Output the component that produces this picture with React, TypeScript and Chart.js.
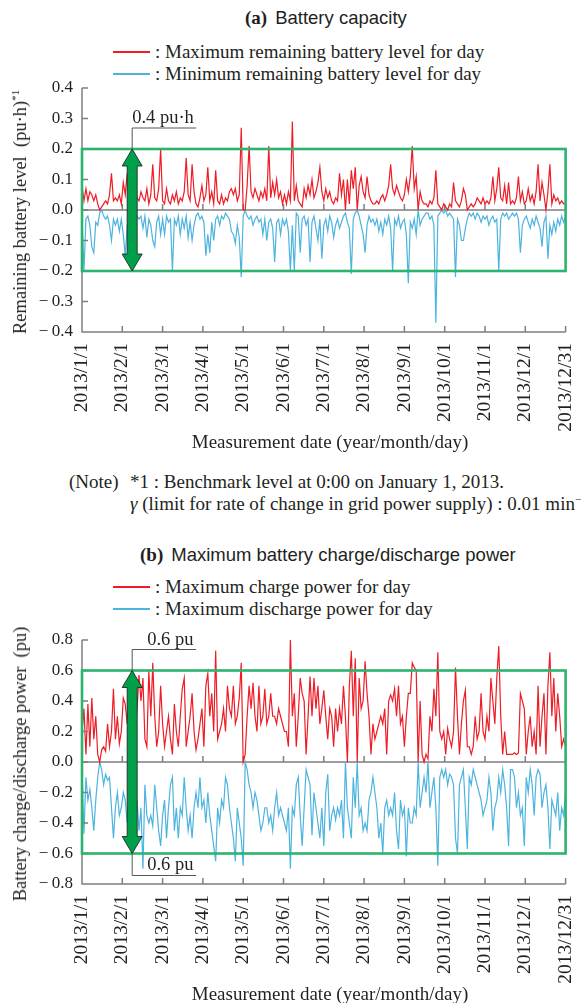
import React, { useEffect, useRef } from "react";
import { Chart, registerables } from "chart.js";
Chart.register(...registerables);

// ---------- data ----------
const X_LABELS = [
  "2013/1/1", "2013/2/1", "2013/3/1", "2013/4/1", "2013/5/1", "2013/6/1", "2013/7/1",
  "2013/8/1", "2013/9/1", "2013/10/1", "2013/11/1", "2013/12/1", "2013/12/31",
];

// (a) maximum remaining battery level for day (pu·h)
const CAP_MAX = [
  0.08,0.03,0.07,0.03,0.06,0.05,0.03,0.05,0.02,0.00,0.01,0.02,0.03,0.02,0.05,0.12,0.03,0.04,0.03,0.05,0.02,0.09,0.05,0.12,0.04,0.06,0.03,0.08,0.04,0.03,0.06,0.04,0.03,0.07,0.02,0.05,0.15,0.04,0.03,0.07,0.20,0.03,0.02,0.07,0.03,0.02,0.05,0.03,0.06,0.02,0.04,0.03,0.06,0.17,0.05,0.03,0.15,0.06,0.02,0.01,0.04,0.08,0.03,0.05,0.14,0.03,0.06,0.02,0.13,0.03,0.02,0.05,0.02,0.04,0.03,0.06,0.07,0.05,0.07,0.03,0.05,0.27,0.00,0.00,0.08,0.21,0.06,0.04,0.07,0.05,0.03,0.06,0.04,0.07,0.03,0.21,0.04,0.09,0.05,0.10,0.04,0.06,0.02,0.05,0.02,0.06,0.03,0.29,0.03,
  0.08,0.03,0.02,0.01,0.07,0.04,0.08,0.05,0.10,0.04,0.06,0.09,0.14,0.06,0.03,0.07,0.04,0.06,0.03,0.02,0.04,0.03,0.12,0.05,0.10,0.00,0.10,0.02,0.13,0.07,0.14,0.00,0.08,0.11,0.06,0.04,0.11,0.05,0.03,0.02,0.02,0.03,0.02,0.04,0.05,0.03,0.05,0.08,0.15,0.07,0.05,0.08,0.06,0.04,0.03,0.05,0.10,0.06,0.11,0.21,0.07,0.11,0.00,0.06,0.03,0.02,0.02,0.01,0.03,0.02,0.04,0.13,0.02,0.01,0.00,0.02,0.01,0.00,0.02,0.01,0.09,0.03,0.02,0.01,0.03,0.07,0.05,0.00,0.01,0.02,0.01,0.02,0.04,0.03,0.02,0.04,0.02,0.03,0.02,0.04,0.11,0.03,0.07,0.14,0.04,0.03,0.08,0.02,0.09,0.02,0.03,0.02,0.04,0.11,0.03,0.06,0.02,0.03,0.07,0.03,0.05,0.02,0.06,0.15,0.03,0.09,0.05,0.00,0.06,0.15,0.02,0.05,0.03,0.04,0.02,0.03,0.02,0.02,
];

// (a) minimum remaining battery level for day (pu·h)
const CAP_MIN = [
  -0.02,-0.20,-0.03,-0.02,-0.05,-0.12,-0.14,-0.04,-0.05,-0.01,0.00,-0.02,-0.03,-0.02,-0.05,-0.10,-0.03,-0.05,-0.03,-0.07,-0.03,-0.08,-0.15,-0.05,-0.03,-0.06,-0.02,-0.04,-0.02,-0.03,-0.02,-0.06,-0.02,-0.09,-0.03,-0.05,-0.10,-0.12,-0.04,-0.02,-0.08,-0.03,-0.08,-0.02,-0.04,-0.03,-0.20,-0.03,-0.05,-0.02,-0.08,-0.03,-0.06,-0.02,-0.09,-0.04,-0.10,-0.05,-0.02,-0.01,-0.03,-0.02,-0.04,-0.15,-0.08,-0.14,-0.04,-0.10,-0.03,-0.02,-0.05,-0.02,-0.03,-0.01,-0.02,-0.03,-0.07,-0.08,-0.11,-0.05,-0.09,-0.22,-0.02,0.00,-0.02,-0.03,-0.02,-0.05,-0.03,-0.02,-0.04,-0.03,-0.08,-0.03,-0.10,-0.04,-0.03,-0.06,-0.17,-0.04,-0.03,-0.08,-0.03,-0.05,-0.03,-0.07,-0.20,-0.05,-0.20,
  -0.01,-0.02,-0.14,-0.03,-0.02,-0.05,-0.03,-0.17,-0.04,-0.02,-0.06,-0.10,-0.03,-0.16,-0.05,-0.03,-0.07,-0.02,-0.04,-0.09,-0.05,-0.03,-0.06,-0.04,-0.02,-0.01,-0.04,-0.06,-0.21,-0.03,-0.01,0.00,-0.02,-0.05,-0.08,-0.14,-0.05,-0.02,-0.04,-0.03,-0.05,-0.03,-0.07,-0.04,-0.08,-0.03,-0.05,-0.02,-0.06,-0.20,-0.03,-0.05,-0.02,-0.06,-0.04,-0.03,-0.08,-0.24,-0.04,-0.06,-0.03,-0.08,0.00,-0.05,-0.03,-0.02,-0.01,-0.01,-0.03,-0.02,-0.05,-0.37,-0.02,-0.01,0.00,-0.01,0.00,-0.02,-0.01,-0.02,-0.03,-0.22,-0.03,-0.05,-0.10,-0.10,-0.06,-0.03,-0.01,-0.02,-0.01,-0.03,-0.01,-0.02,-0.04,-0.02,-0.03,-0.02,-0.05,-0.03,-0.02,-0.04,-0.03,-0.20,-0.03,-0.01,-0.02,-0.01,-0.03,-0.02,-0.01,-0.02,-0.01,-0.03,-0.14,-0.05,-0.03,-0.02,-0.04,-0.06,-0.03,-0.05,-0.02,-0.04,-0.06,-0.12,-0.04,-0.02,-0.16,-0.05,-0.08,-0.04,-0.07,-0.03,-0.05,-0.02,-0.04,-0.02,
];

// (b) maximum charge power for day (pu)
const CHG_MAX = [
  0.20,0.35,0.05,0.38,0.10,0.42,0.15,0.30,0.05,0.00,0.08,0.10,0.07,0.25,0.10,0.20,0.48,0.15,0.30,0.12,0.20,0.42,0.38,0.25,0.50,0.30,0.45,0.20,0.35,0.57,0.40,0.55,0.15,0.10,0.60,0.30,0.65,0.30,0.10,0.20,0.50,0.25,0.10,0.20,0.30,0.15,0.05,0.38,0.20,0.10,0.30,0.48,0.55,0.10,0.20,0.30,0.45,0.20,0.08,0.15,0.25,0.35,0.10,0.50,0.58,0.30,0.45,0.20,0.73,0.15,0.20,0.25,0.35,0.20,0.50,0.35,0.30,0.50,0.25,0.30,0.42,0.65,0.00,0.05,0.30,0.50,0.35,0.52,0.30,0.20,0.50,0.25,0.30,0.48,0.25,0.30,0.45,0.30,0.30,0.25,0.35,0.30,0.25,0.20,0.20,0.10,0.80,0.30,0.45,
  0.10,0.30,0.55,0.45,0.40,0.05,0.30,0.56,0.30,0.55,0.35,0.50,0.25,0.35,0.47,0.30,0.15,0.35,0.30,0.10,0.35,0.20,0.35,0.25,0.50,0.30,0.00,0.50,0.73,0.30,0.68,0.00,0.55,0.35,0.40,0.66,0.45,0.30,0.05,0.25,0.15,0.20,0.25,0.30,0.25,0.35,0.05,0.40,0.44,0.40,0.48,0.30,0.50,0.25,0.30,0.10,0.30,0.45,0.45,0.65,0.62,0.60,0.00,0.40,0.05,0.00,0.05,0.02,0.30,0.20,0.48,0.30,0.72,0.20,0.15,0.20,0.05,0.22,0.15,0.10,0.20,0.62,0.30,0.05,0.25,0.40,0.47,0.10,0.10,0.05,0.10,0.30,0.15,0.20,0.45,0.20,0.15,0.30,0.20,0.55,0.40,0.25,0.55,0.76,0.30,0.05,0.20,0.05,0.05,0.05,0.05,0.06,0.05,0.06,0.45,0.40,0.35,0.05,0.20,0.30,0.10,0.20,0.05,0.50,0.10,0.30,0.45,0.05,0.50,0.72,0.30,0.55,0.20,0.45,0.30,0.10,0.15,0.10,
];

// (b) maximum discharge power for day (pu)
const DIS_MAX = [
  -0.05,-0.47,-0.10,-0.25,-0.18,-0.30,-0.45,-0.25,-0.10,0.00,-0.05,-0.15,-0.08,-0.12,-0.10,-0.30,-0.50,-0.30,-0.20,-0.35,-0.30,-0.20,-0.25,-0.40,-0.20,-0.45,-0.30,-0.50,-0.25,-0.45,-0.30,-0.70,-0.15,-0.35,-0.40,-0.35,-0.42,-0.15,-0.30,-0.45,-0.55,-0.35,-0.25,-0.50,-0.30,-0.15,-0.10,-0.45,-0.30,-0.50,-0.30,-0.35,-0.10,-0.30,-0.45,-0.35,-0.50,-0.30,-0.20,-0.30,-0.10,-0.30,-0.25,-0.40,-0.20,-0.35,-0.45,-0.55,-0.65,-0.30,-0.40,-0.25,-0.30,-0.10,-0.15,-0.30,-0.40,-0.50,-0.65,-0.30,-0.40,-0.50,-0.68,0.00,-0.05,-0.15,-0.20,-0.30,-0.20,-0.25,-0.35,-0.45,-0.40,-0.30,-0.30,-0.40,-0.35,-0.45,-0.30,-0.20,-0.35,-0.30,-0.35,-0.40,-0.45,-0.30,-0.70,-0.30,-0.35,
  -0.15,-0.10,-0.35,-0.55,-0.30,-0.05,-0.10,-0.15,-0.48,-0.20,-0.30,-0.40,-0.50,-0.30,-0.55,-0.20,-0.08,-0.45,-0.35,-0.30,-0.38,-0.30,-0.35,-0.25,-0.50,0.00,-0.30,-0.40,-0.50,-0.10,-0.30,0.00,-0.35,-0.30,-0.45,-0.40,-0.45,-0.25,-0.20,-0.10,-0.20,-0.30,-0.50,-0.40,-0.60,-0.30,-0.25,-0.35,-0.30,-0.35,-0.20,-0.45,-0.57,-0.25,-0.35,-0.30,-0.62,-0.30,-0.40,-0.40,-0.30,-0.35,0.00,-0.30,-0.20,-0.10,-0.20,0.00,-0.30,-0.20,-0.10,-0.30,-0.68,-0.10,-0.05,-0.10,-0.05,-0.15,-0.08,-0.10,-0.15,-0.50,-0.60,-0.15,-0.10,-0.05,-0.30,-0.57,-0.10,-0.15,-0.05,-0.10,-0.15,-0.20,-0.25,-0.35,-0.30,-0.25,-0.10,-0.20,-0.45,-0.30,-0.25,-0.10,-0.20,-0.05,-0.15,-0.30,-0.55,-0.05,-0.05,-0.10,-0.30,-0.20,-0.35,-0.30,-0.55,-0.10,-0.20,-0.05,-0.15,-0.35,-0.10,-0.05,-0.08,-0.30,-0.20,-0.15,-0.30,-0.57,-0.25,-0.30,-0.35,-0.20,-0.45,-0.30,-0.35,-0.20,
];

const CAP_LIMIT = [-0.2, 0.2];
const PWR_LIMIT = [-0.6, 0.6];

// ---------- styles ----------
const SERIF = '"Liberation Serif", "Times New Roman", serif';
const SANS = '"Liberation Sans", Arial, sans-serif';
const RED = "#ee1c25";
const BLUE = "#4db3df";
const GREEN_BOX = "#2bb46e";
const GREEN_ARROW = "#00a04b";
const AXIS = "#7f7f7f";
const TEXT = "#231f20";

function toPoints(arr: number[]) {
  const n = arr.length;
  return arr.map((v, i) => ({ x: (i * 12) / (n - 1), y: v }));
}

function fmtTick(v: number) {
  const r = Math.round(v * 10) / 10;
  if (Math.abs(r) < 1e-9) return "0.0";
  return r < 0 ? "\u2212\u2009" + Math.abs(r).toFixed(1) : r.toFixed(1);
}

const decorPlugin = {
  id: "decor",
  beforeDatasetsDraw(chart: any) {
    const { ctx, chartArea: a, scales } = chart;
    const x = scales.x, y = scales.y;
    const y0 = y.getPixelForValue(0);
    ctx.save();
    ctx.strokeStyle = AXIS;
    ctx.lineWidth = 1.5;
    ctx.beginPath();
    ctx.moveTo(a.left, y0);
    ctx.lineTo(a.right, y0);
    x.ticks.forEach((t: any) => {
      const px = x.getPixelForValue(t.value);
      ctx.moveTo(px, y0);
      ctx.lineTo(px, y0 - 6);
    });
    ctx.stroke();
    ctx.restore();
  },
  afterDatasetsDraw(chart: any, _args: any, opts: any) {
    const { ctx, chartArea: a, scales } = chart;
    const x = scales.x, y = scales.y;
    ctx.save();
    // axes
    ctx.strokeStyle = AXIS;
    ctx.lineWidth = 1.5;
    ctx.beginPath();
    ctx.moveTo(a.left, a.top);
    ctx.lineTo(a.left, a.bottom);
    ctx.lineTo(a.right, a.bottom);
    y.ticks.forEach((t: any) => {
      const py = y.getPixelForValue(t.value);
      ctx.moveTo(a.left, py);
      ctx.lineTo(a.left + 6, py);
    });
    x.ticks.forEach((t: any) => {
      const px = x.getPixelForValue(t.value);
      ctx.moveTo(px, a.bottom);
      ctx.lineTo(px, a.bottom - 6);
    });
    ctx.stroke();

    // limit box
    const [lo, hi] = opts.limits;
    const bx0 = x.getPixelForValue(0), bx1 = x.getPixelForValue(12);
    const by0 = y.getPixelForValue(hi), by1 = y.getPixelForValue(lo);
    ctx.strokeStyle = GREEN_BOX;
    ctx.lineWidth = 2.6;
    ctx.strokeRect(bx0, by0, bx1 - bx0, by1 - by0);

    // double arrow
    const ax = x.getPixelForValue(opts.arrowX);
    const hl = 17, hw = 10, sw = 5;
    ctx.beginPath();
    ctx.moveTo(ax, by0);
    ctx.lineTo(ax + hw, by0 + hl);
    ctx.lineTo(ax + sw, by0 + hl);
    ctx.lineTo(ax + sw, by1 - hl);
    ctx.lineTo(ax + hw, by1 - hl);
    ctx.lineTo(ax, by1);
    ctx.lineTo(ax - hw, by1 - hl);
    ctx.lineTo(ax - sw, by1 - hl);
    ctx.lineTo(ax - sw, by0 + hl);
    ctx.lineTo(ax - hw, by0 + hl);
    ctx.closePath();
    ctx.fillStyle = GREEN_ARROW;
    ctx.fill();
    ctx.strokeStyle = "#1e2a22";
    ctx.lineWidth = 0.9;
    ctx.stroke();

    // leader lines + labels
    ctx.strokeStyle = "#555";
    ctx.lineWidth = 1;
    ctx.fillStyle = TEXT;
    ctx.font = `18.5px ${SERIF}`;
    ctx.textBaseline = "alphabetic";
    if (opts.topLabel) {
      ctx.beginPath();
      ctx.moveTo(ax, by0);
      ctx.lineTo(ax, by0 - 21);
      ctx.lineTo(ax + 64, by0 - 21);
      ctx.stroke();
      ctx.textAlign = "left";
      ctx.fillText(opts.topLabel, ax + opts.topLabelDx, by0 - 26);
    }
    if (opts.bottomLabel) {
      ctx.beginPath();
      ctx.moveTo(ax, by1);
      ctx.lineTo(ax, by1 + 22);
      ctx.lineTo(ax + 64, by1 + 22);
      ctx.stroke();
      ctx.textAlign = "left";
      ctx.fillText(opts.bottomLabel, ax + opts.topLabelDx, by1 + 16);
    }
    ctx.restore();
  },
};

type PlotProps = {
  top: number;
  height: number;
  series: number[][];
  yMin: number;
  yMax: number;
  step: number;
  decor: any;
};

function Plot({ top, height, series, yMin, yMax, step, decor }: PlotProps) {
  const ref = useRef<HTMLCanvasElement | null>(null);
  useEffect(() => {
    if (!ref.current) return;
    const chart = new Chart(ref.current, {
      type: "line",
      data: {
        datasets: [
          { data: toPoints(series[0]), borderColor: RED, borderWidth: 1.2, pointRadius: 0, tension: 0, fill: false },
          { data: toPoints(series[1]), borderColor: BLUE, borderWidth: 1.2, pointRadius: 0, tension: 0, fill: false },
        ],
      },
      options: {
        responsive: false,
        animation: false,
        devicePixelRatio: 1,
        layout: { padding: { top: 20, right: 26, left: 0, bottom: 0 } },
        plugins: { legend: { display: false }, tooltip: { enabled: false }, decor } as any,
        scales: {
          x: {
            type: "linear",
            min: 0,
            max: 12,
            grid: { display: false, drawTicks: false },
            border: { display: false },
            ticks: {
              stepSize: 1,
              autoSkip: false,
              maxRotation: 90,
              minRotation: 90,
              padding: 11,
              color: TEXT,
              font: { family: SERIF, size: 19.5 },
              callback: (v: any) => X_LABELS[Math.round(v)] ?? "",
            },
            afterFit: (s: any) => {
              s.height = height - 20 - 244;
            },
          },
          y: {
            min: yMin,
            max: yMax,
            grid: { display: false, drawTicks: false },
            border: { display: false },
            ticks: {
              stepSize: step,
              padding: 9,
              color: TEXT,
              font: { family: SERIF, size: 17 },
              callback: (v: any) => fmtTick(Number(v)),
            },
            afterFit: (s: any) => {
              s.width = 82;
            },
          },
        },
      } as any,
      plugins: [decorPlugin as any],
    });
    return () => chart.destroy();
  }, []);
  return (
    <canvas
      ref={ref}
      width={600}
      height={height}
      style={{ position: "absolute", left: 0, top, width: 600, height }}
    />
  );
}

const txt: React.CSSProperties = {
  position: "absolute",
  whiteSpace: "nowrap",
  fontFamily: SERIF,
  fontSize: 19,
  lineHeight: "22px",
  color: TEXT,
};

function LegendRow({ y, color, label }: { y: number; color: string; label: string }) {
  return (
    <>
      <div style={{ position: "absolute", left: 113, top: y - 0.75, width: 37, height: 1.5, background: color }} />
      <div style={{ ...txt, left: 155, top: y - 11 }}>{label}</div>
    </>
  );
}

export default function App() {
  return (
    <div
      style={{
        position: "absolute",
        left: 0,
        top: 0,
        width: 581,
        height: 1003,
        overflow: "hidden",
        background: "#fff",
      }}
    >
      {/* (a) */}
      <div style={{ ...txt, left: 245, top: 7 }}>
        <b>(a)</b>
        <span style={{ fontFamily: SANS, fontSize: 18.5, marginLeft: 8 }}>Battery capacity</span>
      </div>
      <LegendRow y={52} color={RED} label=": Maximum remaining battery level for day" />
      <LegendRow y={74} color={BLUE} label=": Minimum remaining battery level for day" />
      <Plot
        top={68}
        height={380}
        series={[CAP_MAX, CAP_MIN]}
        yMin={-0.4}
        yMax={0.4}
        step={0.1}
        decor={{ limits: CAP_LIMIT, arrowX: 1.245, topLabel: "0.4 pu\u00b7h", topLabelDx: 0 }}
      />
      <div
        style={{
          ...txt,
          fontSize: 18.5,
          left: 20,
          top: 212,
          transform: "translate(-50%, -50%) rotate(-90deg)",
        }}
      >
        Remaining battery level&nbsp;&nbsp;(pu·h)<sup style={{ fontSize: 11, verticalAlign: "7px", lineHeight: 0 }}>*1</sup>
      </div>
      <div style={{ ...txt, left: 330, top: 431, transform: "translateX(-50%)" }}>
        Measurement date (year/month/day)
      </div>
      <div style={{ ...txt, left: 69, top: 471 }}>(Note)</div>
      <div style={{ ...txt, left: 130, top: 471 }}>*1 : Benchmark level at 0:00 on January 1, 2013.</div>
      <div style={{ ...txt, left: 130, top: 493 }}>
        <i>γ</i> (limit for rate of change in grid power supply) : 0.01 min
        <sup style={{ fontSize: 11, verticalAlign: "7px", lineHeight: 0 }}>−1</sup>
      </div>

      {/* (b) */}
      <div style={{ ...txt, left: 140, top: 544 }}>
        <b>(b)</b>
        <span style={{ fontFamily: SANS, fontSize: 18.5, marginLeft: 8 }}>Maximum battery charge/discharge power</span>
      </div>
      <LegendRow y={587} color={RED} label=": Maximum charge power for day" />
      <LegendRow y={609} color={BLUE} label=": Maximum discharge power for day" />
      <Plot
        top={620}
        height={380}
        series={[CHG_MAX, DIS_MAX]}
        yMin={-0.8}
        yMax={0.8}
        step={0.2}
        decor={{ limits: PWR_LIMIT, arrowX: 1.245, topLabel: "0.6 pu", bottomLabel: "0.6 pu", topLabelDx: 15 }}
      />
      <div
        style={{
          ...txt,
          fontSize: 18.5,
          left: 20,
          top: 764,
          transform: "translate(-50%, -50%) rotate(-90deg)",
        }}
      >
        Battery charge/discharge power&nbsp;&nbsp;(pu)
      </div>
      <div style={{ ...txt, left: 330, top: 983, transform: "translateX(-50%)" }}>
        Measurement date (year/month/day)
      </div>
    </div>
  );
}
